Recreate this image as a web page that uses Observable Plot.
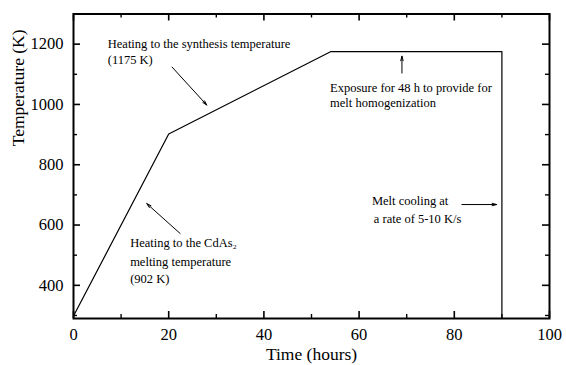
<!DOCTYPE html>
<html>
<head>
<meta charset="utf-8">
<script src="https://cdn.jsdelivr.net/npm/d3@7"></script>
<script src="https://cdn.jsdelivr.net/npm/@observablehq/plot@0.6"></script>
<style>
  html, body { margin: 0; padding: 0; background: #fff; }
  #chart { width: 566px; height: 365px; }
  #chart svg, #chart svg text { font-family: "Liberation Serif", "DejaVu Serif", serif !important; }
</style>
</head>
<body>
<div id="chart"></div>
<script>
// ---- data ----
const timeHours = [0, 20, 54, 90, 90];
const temperatureK = [298, 902, 1175, 1175, 290];

const xMajorTicks = [0, 20, 40, 60, 80, 100];
const xMinorTicks = [10, 30, 50, 70, 90];
const yMajorTicks = [400, 600, 800, 1000, 1200];
const yMinorTicks = [300, 500, 700, 900, 1100, 1300];

const noteText = [
  "Heating to the synthesis temperature",
  "(1175 K)",
  "Exposure for 48 h to provide for",
  "melt homogenization",
  "Heating to the CdAs\u2082",
  "melting temperature",
  "(902 K)",
  "Melt cooling at",
  "a rate of 5-10 K/s"
];
const noteX = [7.2, 7.2, 53.9, 53.9, 11.9, 11.9, 11.9, 62.7, 63.1];
const noteY = [1200, 1147, 1054, 1005, 542, 479, 420, 681, 621];

const arrowX1 = [20.7, 69.0, 22.4, 81.6];
const arrowY1 = [1124, 1104, 572, 668];
const arrowX2 = [28.0, 69.0, 15.4, 88.9];
const arrowY2 = [998, 1160, 671, 668];

const xTitle = "Time (hours)";
const yTitle = "Temperature (K)";

// ---- tables built from the arrays ----
const profile = timeHours.map((t, i) => ({t, T: temperatureK[i]}));
const notes = noteText.map((s, i) => ({s, x: noteX[i], y: noteY[i]}));
const arrows = arrowX1.map((x1, i) => ({x1, y1: arrowY1[i], x2: arrowX2[i], y2: arrowY2[i]}));

const W = 566, H = 365;
const mL = 73, mR = 17, mT = 13.5, mB = 47;
const fw = W - mL - mR, fh = H - mT - mB;
const major = 7, minor = 4;
const serif = "Liberation Serif";

const chart = Plot.plot({
  width: W,
  height: H,
  marginLeft: mL,
  marginRight: mR,
  marginTop: mT,
  marginBottom: mB,
  style: {fontFamily: serif, fontSize: "16.5px", background: "#fff", color: "#000"},
  x: {domain: [0, 100]},
  y: {domain: [290, 1300]},
  marks: [
    // ticks inward on all four sides
    Plot.tickX(xMajorTicks, {x: d => d, insetTop: fh - major, stroke: "#000", strokeWidth: 1.6}),
    Plot.tickX(xMinorTicks, {x: d => d, insetTop: fh - minor, stroke: "#000", strokeWidth: 1.4}),
    Plot.tickX(xMajorTicks, {x: d => d, insetBottom: fh - major, stroke: "#000", strokeWidth: 1.6}),
    Plot.tickX(xMinorTicks, {x: d => d, insetBottom: fh - minor, stroke: "#000", strokeWidth: 1.4}),
    Plot.tickY(yMajorTicks, {y: d => d, insetRight: fw - major, stroke: "#000", strokeWidth: 1.6}),
    Plot.tickY(yMinorTicks, {y: d => d, insetRight: fw - minor, stroke: "#000", strokeWidth: 1.4}),
    Plot.tickY(yMajorTicks, {y: d => d, insetLeft: fw - major, stroke: "#000", strokeWidth: 1.6}),
    Plot.tickY(yMinorTicks, {y: d => d, insetLeft: fw - minor, stroke: "#000", strokeWidth: 1.4}),
    // tick labels
    Plot.axisX(xMajorTicks, {tickSize: 0, tickPadding: 10, label: null, tickFormat: d => String(d), fill: "#000", fontFamily: serif, fontSize: 16.5}),
    Plot.axisY(yMajorTicks, {tickSize: 0, tickPadding: 10, label: null, tickFormat: d => String(d), fill: "#000", fontFamily: serif, fontSize: 16.5}),
    // axis titles
    Plot.text([xTitle], {frameAnchor: "bottom", dy: 41, text: d => d, fontSize: 17.5, fontFamily: serif, fill: "#000"}),
    Plot.text([yTitle], {frameAnchor: "left", dx: -55, dy: -20, rotate: -90, text: d => d, fontSize: 17.5, fontFamily: serif, fill: "#000"}),
    // the temperature profile
    Plot.line(profile, {x: "t", y: "T", stroke: "#000", strokeWidth: 1.2}),
    // annotations
    Plot.text(notes, {x: "x", y: "y", text: "s", textAnchor: "start", fontSize: 12.5, fontFamily: serif, fill: "#000"}),
    Plot.arrow(arrows, {x1: "x1", y1: "y1", x2: "x2", y2: "y2", stroke: "#000", strokeWidth: 1, headLength: 7, headAngle: 30}),
    Plot.frame({stroke: "#000", strokeWidth: 2})
  ]
});
document.getElementById("chart").appendChild(chart);
</script>
</body>
</html>
